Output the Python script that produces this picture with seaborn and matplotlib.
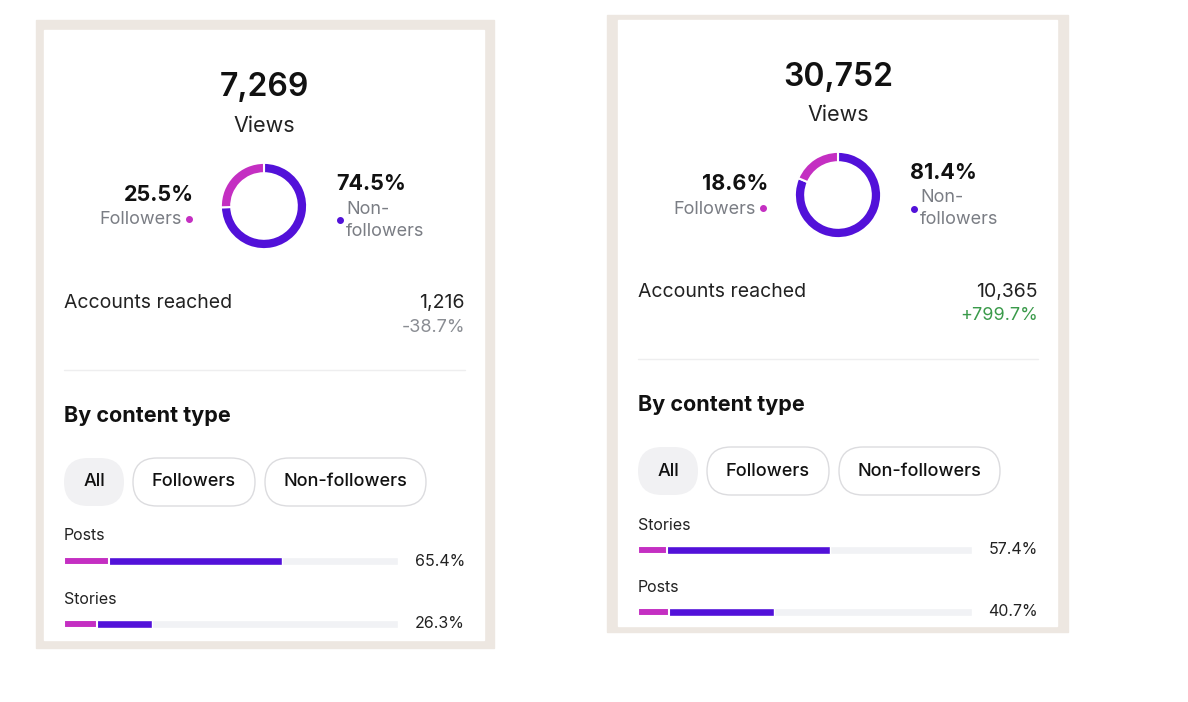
import matplotlib
matplotlib.use("Agg")
import matplotlib.pyplot as plt
import seaborn as sns
import pandas as pd
from matplotlib.patches import Rectangle, FancyBboxPatch

sns.set_style("white")
plt.rcParams['font.family'] = ['Inter', 'DejaVu Sans']

PINK = "#c42fc2"
PURPLE = "#5211d9"
TRACK = "#f1f2f5"

views = ["7,269", "30,752"]
follower_share = [25.5, 18.6]
nonfollower_share = [74.5, 81.4]
accounts = ["1,216", "10,365"]
acc_change = ["-38.7%", "+799.7%"]
acc_color = ["#8a8d93", "#3a9a4a"]
cats_left = ["Posts", "Stories"]
tot_left = [65.4, 26.3]
fol_left = [13.5, 10.0]
cats_right = ["Stories", "Posts"]
tot_right = [57.4, 40.7]
fol_right = [8.7, 9.3]

W, H = 1188, 702
fig = plt.figure(figsize=(11.88, 7.02), dpi=100)
bg = fig.add_axes([0, 0, 1, 1])
bg.set_xlim(0, W); bg.set_ylim(H, 0); bg.axis("off")

def fr(x0, y0, x1, y1):
    return [x0 / W, 1 - y1 / H, (x1 - x0) / W, (y1 - y0) / H]

panels = [
    dict(outer=(36, 20, 494, 648), inner=(44, 30, 484, 640), cx=264, top=0, L=64, R=465,
         cats=cats_left, tot=tot_left, fol=fol_left, bary=(561, 624)),
    dict(outer=(607, 15, 1068, 632), inner=(618, 20, 1057, 626), cx=838, top=-11, L=638, R=1038,
         cats=cats_right, tot=tot_right, fol=fol_right, bary=(550, 612)),
]

for i, p in enumerate(panels):
    ox0, oy0, ox1, oy1 = p["outer"]
    bg.add_patch(Rectangle((ox0, oy0), ox1 - ox0, oy1 - oy0, color="#ede7e1", zorder=0))
    ix0, iy0, ix1, iy1 = p["inner"]
    bg.add_patch(Rectangle((ix0, iy0), ix1 - ix0, iy1 - iy0, color="white", zorder=1))
    t = p["top"]; cx = p["cx"]; L = p["L"]; R = p["R"]
    bg.text(cx, 88 + t, views[i], ha="center", va="center", fontsize=23, weight="semibold", color="#111", zorder=3)
    bg.text(cx, 126 + t, "Views", ha="center", va="center", fontsize=15.5, color="#222", zorder=3)
    # donut
    dax = fig.add_axes(fr(cx - 44, 162 + t, cx + 44, 250 + t))
    dax.pie([nonfollower_share[i], follower_share[i]], colors=[PURPLE, PINK], startangle=90,
            counterclock=False, wedgeprops=dict(width=0.24, edgecolor="white", linewidth=1.5))
    dax.set_xlim(-1.02, 1.02); dax.set_ylim(-1.02, 1.02)
    dax.set_aspect("equal")
    bg.text(cx - 70, 195 + t, f"{follower_share[i]}%", ha="right", va="center", fontsize=15.5, weight="bold", color="#111", zorder=3)
    bg.text(cx - 82, 220 + t, "Followers", ha="right", va="center", fontsize=13, color="#7a7d84", zorder=3)
    bg.plot([cx - 75], [219 + t], "o", color=PINK, ms=4, zorder=3)
    bg.text(cx + 72, 184 + t, f"{nonfollower_share[i]}%", ha="left", va="center", fontsize=15.5, weight="bold", color="#111", zorder=3)
    bg.plot([cx + 76], [220 + t], "o", color=PURPLE, ms=4, zorder=3)
    bg.text(cx + 82, 209 + t, "Non-", ha="left", va="center", fontsize=13, color="#7a7d84", zorder=3)
    bg.text(cx + 82, 231 + t, "followers", ha="left", va="center", fontsize=13, color="#7a7d84", zorder=3)
    # accounts reached
    bg.text(L, 303 + t, "Accounts reached", ha="left", va="center", fontsize=14, color="#222", zorder=3)
    bg.text(R, 303 + t, accounts[i], ha="right", va="center", fontsize=14, color="#222", zorder=3)
    bg.text(R, 327 + t, acc_change[i], ha="right", va="center", fontsize=13, color=acc_color[i], zorder=3)
    bg.plot([L, R], [370 + t, 370 + t], color="#eeeeef", lw=1, zorder=3)
    bg.text(L, 416 + t, "By content type", ha="left", va="center", fontsize=15.5, weight="bold", color="#111", zorder=3)
    # pills
    pills = [("All", 0, 60, True), ("Followers", 69, 191, False), ("Non-followers", 201, 362, False)]
    for lab, a, b, filled in pills:
        bg.add_patch(FancyBboxPatch((L + a, 458 + t), b - a, 48, boxstyle="round,pad=0,rounding_size=24",
                                    fc="#f1f1f3" if filled else "white", ec="none" if filled else "#dcdcdf",
                                    lw=1, zorder=2))
        bg.text(L + (a + b) / 2, 482 + t, lab, ha="center", va="center", fontsize=13, weight="medium", color="#111", zorder=3)
    # bars
    y0, y1 = p["bary"]
    sp = y1 - y0
    bax = fig.add_axes(fr(L, y0 - sp / 2, L + 334, y1 + sp / 2))
    df = pd.DataFrame({"cat": p["cats"], "tot": p["tot"], "fol": p["fol"], "track": [100, 100]})
    sns.barplot(data=df, y="cat", x="track", color=TRACK, width=0.14, ax=bax, saturation=1)
    sns.barplot(data=df, y="cat", x="tot", color=PURPLE, width=0.14, ax=bax, saturation=1)
    sns.barplot(data=df, y="cat", x="fol", color=PINK, width=0.14, ax=bax, saturation=1,
                edgecolor="white", linewidth=1.5)
    bax.set_xlim(0, 100); bax.set_ylim(1.5, -0.5)
    bax.axis("off")
    for k, (c, v) in enumerate(zip(p["cats"], p["tot"])):
        yy = y0 + k * sp
        bg.text(L, yy - 25, c, ha="left", va="center", fontsize=11.5, color="#222", zorder=3)
        bg.text(R, yy, f"{v}%", ha="right", va="center", fontsize=11.5, color="#222", zorder=3)

fig.savefig("out.png", dpi=100)
